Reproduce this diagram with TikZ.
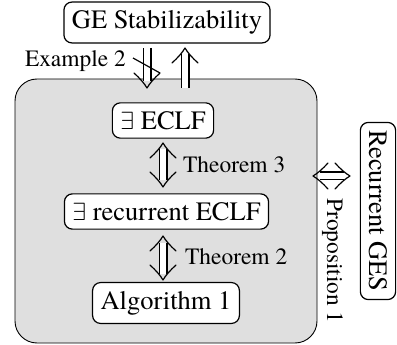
\documentclass[tikz,border=0pt]{standalone}
\usepackage{fontspec}
\setmainfont{TeX Gyre Termes}
\begin{document}
\begin{tikzpicture}[x=1pt,y=-1pt,
  box/.style={draw, line width=1.2pt, rounded corners=8pt, fill=white,
    inner xsep=8pt, inner ysep=8.5pt, font=\fontsize{26.5}{30}\selectfont},
  lbl/.style={inner sep=0pt, font=\fontsize{23.4}{28}\selectfont},
  shaft/.style={double, double distance=6.6pt, line width=1.2pt},
  bothends/.style={shaft, shorten <=6.5pt, shorten >=6.5pt},
  oneend/.style={shaft, shorten >=6.5pt},
  headline/.style={line width=1.2pt, line cap=round, line join=round},
  imphead/.pic={\draw[headline] (-15pt,13pt) .. controls (-10pt,7.5pt) and (-4.5pt,2.5pt) .. (0pt,0pt)
      .. controls (-4.5pt,-2.5pt) and (-10pt,-7.5pt) .. (-15pt,-13pt);}]
\useasboundingbox (0,0) rectangle (397,345);
\node[draw, line width=0.9pt, fill=gray!25, rounded corners=22pt,
  minimum width=302pt, minimum height=264pt, inner sep=0pt] (grp) at (166,211) {};
\node[box] (ge) at (167,22.5) {GE Stabilizability};
\node[box] (ecl) at (163,120.5) {$\exists$ ECLF};
\node[box] (rec) at (166.5,211.5) {$\exists$ recurrent ECLF};
\node[box] (alg) at (166,303) {Algorithm 1};
\node[box, rotate=-90] (rges) at (378,211) {Recurrent GES};
\node[lbl, anchor=base west] (ex) at (25,67) {Example 2};
\node[lbl, anchor=base west] (th3) at (183,173) {Theorem 3};
\node[lbl, anchor=base west] (th2) at (185,265) {Theorem 2};
\node[lbl, anchor=base west, rotate=-90] (pr1) at (327,198) {Proposition 1};
% Example 2 arrows
\coordinate (d1) at (147,48);
\coordinate (d2) at (147,88);
\coordinate (u1) at (185,88);
\coordinate (u2) at (185,48);
\draw[oneend] (d1) -- (d2);
\pic[rotate=-90] at (d2) {imphead};
\draw[line width=1.2pt] (133,58) -- (160,73);
\draw[oneend] (u1) -- (u2);
\pic[rotate=90] at (u2) {imphead};
% Theorem 3
\coordinate (t3a) at (163,143);
\coordinate (t3b) at (163,187);
\draw[bothends] (t3a) -- (t3b);
\pic[rotate=90] at (t3a) {imphead};
\pic[rotate=-90] at (t3b) {imphead};
% Theorem 2
\coordinate (t2a) at (163,236);
\coordinate (t2b) at (163,280);
\draw[bothends] (t2a) -- (t2b);
\pic[rotate=90] at (t2a) {imphead};
\pic[rotate=-90] at (t2b) {imphead};
% Proposition 1
\coordinate (pl) at (313,176);
\coordinate (pr) at (350,176);
\draw[bothends] (pl) -- (pr);
\pic[rotate=180] at (pl) {imphead};
\pic at (pr) {imphead};
\end{tikzpicture}
\end{document}
